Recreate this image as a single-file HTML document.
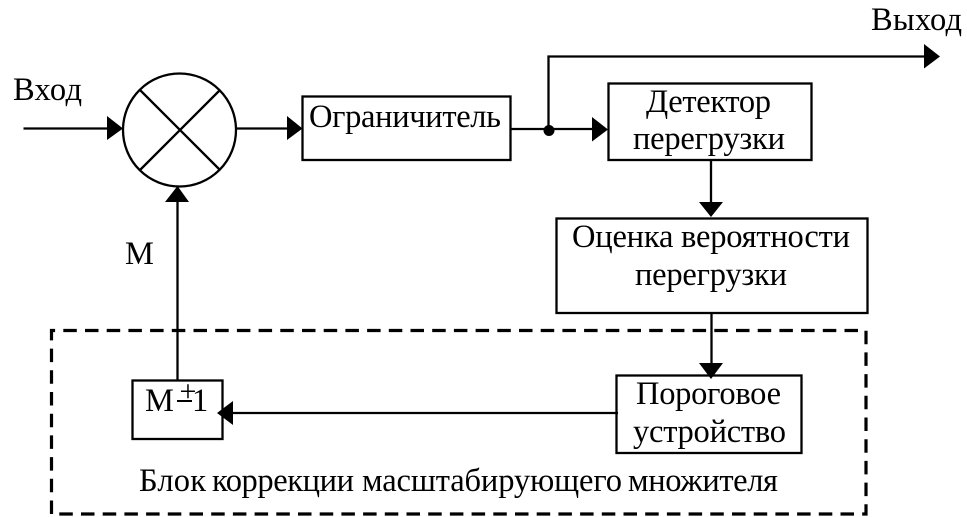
<!DOCTYPE html>
<html>
<head>
<meta charset="utf-8">
<style>
html,body{margin:0;padding:0;background:#fff;width:967px;height:517px;overflow:hidden}
svg{display:block}
text{font-family:"Liberation Serif","DejaVu Serif",serif;font-size:32.5px;fill:#000}
</style>
</head>
<body>
<svg width="967" height="517" viewBox="0 0 967 517" xmlns="http://www.w3.org/2000/svg">
<g fill="none" stroke="#000" stroke-width="2.3">
<circle cx="179.500" cy="130" r="56.500"/>
<path d="M140 90L220 170M220 90L140 170"/>
<path d="M23.500 128.500H108M236 128.500H288M510 129H593M548.500 129V56.500H925M711 160V203M711.500 313V365M618 413H232M177.500 380V201"/>
<rect x="302.500" y="96.500" width="208" height="63.500"/>
<rect x="608.500" y="83.500" width="203" height="76.500"/>
<rect x="556.500" y="218.500" width="311" height="94.500"/>
<rect x="616.500" y="375.500" width="185" height="77.500"/>
<rect x="132.500" y="380.500" width="90" height="58.500"/>
<path d="M51.500 514V330.500H866V514H51.500" stroke-width="3.200" stroke-dasharray="13.500 8.200"/>
</g>
<g fill="#000">
<path d="M107 116L123 128.500L107 140Z"/>
<path d="M287 116L302.500 128.500L287 140Z"/>
<path d="M592 117L608 129.500L592 141.500Z"/>
<path d="M924 44L940 56.500L924 68.500Z"/>
<path d="M699 202H723L711 217Z"/>
<path d="M699 363H723L711 379Z"/>
<path d="M233 401L217 413L233 425Z"/>
<path d="M165 202H189L177.500 186Z"/>
<circle cx="549" cy="130.500" r="5.500"/>
</g>
<text x="13" y="100" textLength="69">Вход</text>
<text x="871" y="30" textLength="91">Выход</text>
<text x="309" y="127" textLength="192">Ограничитель</text>
<text x="646" y="112" textLength="125">Детектор</text>
<text x="633" y="149" textLength="152">перегрузки</text>
<text x="572" y="247" textLength="278">Оценка вероятности</text>
<text x="635" y="285" textLength="152">перегрузки</text>
<text x="636" y="404" textLength="145">Пороговое</text>
<text x="633" y="442" textLength="153">устройство</text>
<text x="125" y="264" textLength="29">М</text>
<text x="145" y="411" textLength="29">М</text>
<text x="179.500" y="401" style="font-size:30px">+</text>
<path d="M177 401H192" stroke="#000" stroke-width="2"/>
<text x="192" y="411">1</text>
<text x="139" y="491" textLength="67">Блок</text>
<text x="212" y="491" textLength="142">коррекции</text>
<text x="362" y="491" textLength="260">масштабирующего</text>
<text x="628" y="491" textLength="150">множителя</text>
</svg>
</body>
</html>
